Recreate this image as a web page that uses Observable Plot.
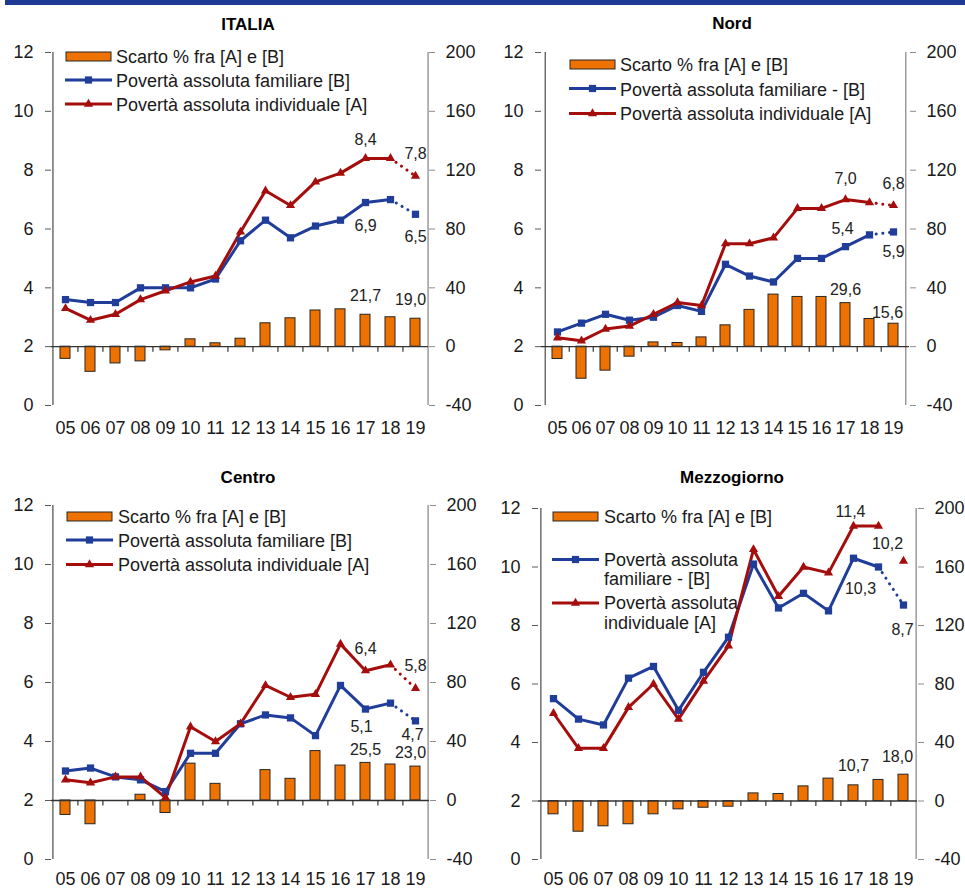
<!DOCTYPE html>
<html><head><meta charset="utf-8">
<script src="https://cdn.jsdelivr.net/npm/d3@7"></script>
<script src="https://cdn.jsdelivr.net/npm/@observablehq/plot@0.6"></script>
<style>
body{margin:0;background:#fff;font-family:"Liberation Sans",Arial,sans-serif;}
#page{position:relative;width:965px;height:888px;overflow:hidden;background:#fff;}
.band{position:absolute;left:5px;top:0;width:960px;height:5px;background:#1F3A93;}
.title{position:absolute;font-weight:bold;font-size:17px;transform:translate(-50%,-50%);white-space:nowrap;color:#000;}
.panel{position:absolute;}
#legend{position:absolute;left:0;top:0;}
</style></head><body><div id="page"><div class="band"></div></div>
<script>
// ---------- data ----------
const years = ["05","06","07","08","09","10","11","12","13","14","15","16","17","18","19"];

const italiaFam = [3.6,3.5,3.5,4.0,4.0,4.0,4.3,5.6,6.3,5.7,6.1,6.3,6.9,7.0,6.5];
const italiaInd = [3.3,2.9,3.1,3.6,3.9,4.2,4.4,5.9,7.3,6.8,7.6,7.9,8.4,8.4,7.8];
const italiaGap = [-8.3,-17.1,-11.4,-10.0,-2.5,5.0,2.3,5.4,15.9,19.3,24.6,25.4,21.7,20.0,19.0];

const nordFam = [2.5,2.8,3.1,2.9,3.0,3.4,3.2,4.8,4.4,4.2,5.0,5.0,5.4,5.8,5.9];
const nordInd = [2.3,2.2,2.6,2.7,3.1,3.5,3.4,5.5,5.5,5.7,6.7,6.7,7.0,6.9,6.8];
const nordGap = [-8.4,-21.8,-16.3,-6.8,2.9,2.5,6.3,14.5,25.0,35.4,33.8,33.8,29.6,18.8,15.6];

const centroFam = [3.0,3.1,2.8,2.7,2.3,3.6,3.6,4.6,4.9,4.8,4.2,5.9,5.1,5.3,4.7];
const centroInd = [2.7,2.6,2.8,2.8,2.1,4.5,4.0,4.6,5.9,5.5,5.6,7.3,6.4,6.6,5.8];
const centroGap = [-9.8,-16.1,0,3.9,-8.5,25.0,11.3,0,20.6,14.7,33.5,23.7,25.5,24.4,23.0];

const mezzoFam = [5.5,4.8,4.6,6.2,6.6,5.1,6.4,7.6,10.1,8.6,9.1,8.5,10.3,10.0,8.7];
const mezzoInd = [5.0,3.8,3.8,5.2,6.0,4.8,6.1,7.3,10.6,9.0,10.0,9.8,11.4,11.4,10.2];
const mezzoGap = [-9.1,-21.0,-17.3,-15.9,-9.1,-5.7,-4.6,-3.9,5.2,4.8,10.0,15.3,10.7,14.4,18.0];

const leftTicks = [0,2,4,6,8,10,12];
const legendGap = "Scarto % fra [A] e [B]";

// ---------- styles ----------
const ORANGE = "#EE7200", BLUE = "#1F3D99", RED = "#A50D0D";
const FONT = '"Liberation Sans", Arial, sans-serif';
const fmt = v => d3.format(".1f")(v).replace(".", ",");

const panels = [
  {title:"ITALIA", fam:italiaFam, ind:italiaInd, gap:italiaGap,
   px:0, pw:480, L:51, R:428, T:52, B:405, tx:248, ty:25, redDots:true, xPad:16,
   labels:[["ind","17",0,-19],["ind","19",0,-22],["fam","17",0,23],["fam","19",0,23],["gap","17",0,-19],["gap","19",-5,-19]],
   leg:{x:66, y:52, tx:116, rows:[[56.7],[80.7],[104.3]],
        fam:["Povertà assoluta familiare [B]"], ind:["Povertà assoluta individuale [A]"], sw:[80,104]}},
  {title:"Nord", fam:nordFam, ind:nordInd, gap:nordGap,
   px:480, pw:485, L:541, R:909, T:52, B:405, tx:732, ty:24, redDots:true, xPad:16,
   labels:[["ind","17",0,-21],["ind","19",0,-22],["fam","17",-3,-18],["fam","19",0,20],["gap","17",0,-13],["gap","19",-6,-11]],
   leg:{x:570, y:60, tx:620, rows:[[64.3],[89.3],[113.3]],
        fam:["Povertà assoluta familiare - [B]"], ind:["Povertà assoluta individuale [A]"], sw:[88.5,113.5]}},
  {title:"Centro", fam:centroFam, ind:centroInd, gap:centroGap,
   px:0, pw:480, L:51, R:429, T:505, B:859, tx:248, ty:478, redDots:true, xPad:13,
   labels:[["ind","17",0,-22],["ind","19",0,-23],["fam","17",-4,18],["fam","19",-3,14],["gap","17",0,-13],["gap","19",-5,-14]],
   leg:{x:67, y:512, tx:118, rows:[[516.7],[540.7],[565]],
        fam:["Povertà assoluta familiare [B]"], ind:["Povertà assoluta individuale [A]"], sw:[540,564.5]}},
  {title:"Mezzogiorno", fam:mezzoFam, ind:mezzoInd, gap:mezzoGap,
   px:480, pw:485, L:538, R:917, T:508, B:859, tx:732, ty:478, redDots:false, xPad:13,
   labels:[["ind","17",-3,-14],["ind","19",-16,-17],["fam","17",7,31],["fam","19",-1,25],["gap","17",0,-19],["gap","19",-6,-18]],
   leg:{x:553, y:512, tx:604, rows:[[516.7],[560,579],[603,623]],
        fam:["Povertà assoluta","familiare - [B]"], ind:["Povertà assoluta","individuale [A]"], sw:[559.5,603]}}
];

const page = document.getElementById("page");

function drawPanel(p) {
  const rows = years.map((y, i) => ({year:y, fam:p.fam[i], ind:p.ind[i], gap:p.gap[i]}));
  const solid = rows.slice(0, 14);
  const tail = rows.slice(13);
  const step = (p.R - p.L) / 15;
  const mt = 10, mb = 28;
  const yOf = (r, s) => s === "gap" ? 2 + r.gap / 20 : r[s];
  const dotted = {strokeWidth:3, strokeDasharray:"0.1,6.6", strokeLinecap:"round"};
  const marks = [
    Plot.ruleX([years[0]], {x:d=>d, y1:0, y2:12, dx:-step/2, stroke:"#595959", strokeWidth:1.3}),
    Plot.ruleX([years[14]], {x:d=>d, y1:0, y2:12, dx:step/2, stroke:"#8c8c8c", strokeWidth:1.3}),
    Plot.axisY({anchor:"left", label:null, ticks:leftTicks, tickSize:6, tickPadding:12, stroke:"#595959", tickFormat:d=>String(d)}),
    Plot.axisY({anchor:"right", label:null, ticks:leftTicks, tickSize:6, tickPadding:11, stroke:"#8c8c8c", tickFormat:d=>String((d-2)*20)}),
    Plot.axisX({anchor:"bottom", label:null, tickSize:0, tickPadding:p.xPad}),
    Plot.barY(rows, {x:"year", y1:2, y2:d=>2 + d.gap/20, fill:ORANGE, stroke:"#262626", strokeWidth:1}),
    Plot.ruleY([2], {stroke:"#333", strokeWidth:1.3}),
    Plot.ruleX(years.slice(1), {x:d=>d, y1:2, y2:1.81, dx:-step/2, stroke:"#333", strokeWidth:1.2}),
    Plot.lineY(solid, {x:"year", y:"fam", stroke:BLUE, strokeWidth:3}),
    Plot.lineY(tail, {x:"year", y:"fam", stroke:BLUE, ...dotted}),
    Plot.lineY(solid, {x:"year", y:"ind", stroke:RED, strokeWidth:3}),
  ];
  if (p.redDots) marks.push(Plot.lineY(tail, {x:"year", y:"ind", stroke:RED, ...dotted}));
  marks.push(
    Plot.dot(rows, {x:"year", y:"fam", symbol:"square", r:4.1, fill:BLUE}),
    Plot.dot(rows, {x:"year", y:"ind", symbol:"triangle", r:3.4, fill:RED})
  );
  p.labels.forEach(([s, yr, dx, dy]) => {
    const r = rows.find(d => d.year === yr);
    marks.push(Plot.text([r], {x:"year", y:d => yOf(d, s), text:d => fmt(d[s]), dx, dy, fontSize:16, fill:"#222"}));
  });
  const chart = Plot.plot({
    width: p.pw,
    height: (p.B - p.T) + mt + mb,
    marginLeft: p.L - p.px,
    marginRight: p.px + p.pw - p.R,
    marginTop: mt,
    marginBottom: mb,
    x: {type:"band", domain:years, paddingInner:0.6, paddingOuter:0.3, label:null},
    y: {domain:[0,12], label:null},
    style: {fontFamily:FONT, fontSize:"18px", color:"#1a1a1a", background:"transparent", overflow:"visible"},
    marks
  });
  const div = document.createElement("div");
  div.className = "panel";
  div.style.left = p.px + "px";
  div.style.top = (p.T - mt) + "px";
  div.appendChild(chart);
  page.appendChild(div);

  const t = document.createElement("div");
  t.className = "title";
  t.style.left = p.tx + "px";
  t.style.top = p.ty + "px";
  t.textContent = p.title;
  page.appendChild(t);
}

panels.forEach(drawPanel);

// ---------- legends ----------
const leg = d3.select(page).append("svg").attr("id","legend").attr("width",965).attr("height",888)
  .style("font-family", FONT).style("font-size","18px");
panels.forEach(p => {
  const g = leg.append("g");
  const L = p.leg;
  g.append("rect").attr("x", L.x).attr("y", L.y).attr("width", 45).attr("height", 9)
    .attr("fill", ORANGE).attr("stroke", "#262626").attr("stroke-width", 1);
  const texts = [[legendGap], L.fam, L.ind];
  texts.forEach((lines, k) => lines.forEach((s, j) => {
    g.append("text").attr("x", L.tx).attr("y", L.rows[k][j]).attr("dy","0.36em").attr("fill","#1a1a1a").text(s);
  }));
  const cx = L.x + 22.5;
  g.append("line").attr("x1", L.x - 1).attr("x2", L.x + 46).attr("y1", L.sw[0]).attr("y2", L.sw[0]).attr("stroke", BLUE).attr("stroke-width", 3);
  g.append("rect").attr("x", cx - 3.6).attr("y", L.sw[0] - 3.6).attr("width", 7.2).attr("height", 7.2).attr("fill", BLUE);
  g.append("line").attr("x1", L.x - 1).attr("x2", L.x + 46).attr("y1", L.sw[1]).attr("y2", L.sw[1]).attr("stroke", RED).attr("stroke-width", 3);
  g.append("path").attr("d", d3.symbol(d3.symbolTriangle, Math.PI*3.4*3.4)()).attr("transform", `translate(${cx},${L.sw[1]})`).attr("fill", RED);
});
</script>
</body></html>
